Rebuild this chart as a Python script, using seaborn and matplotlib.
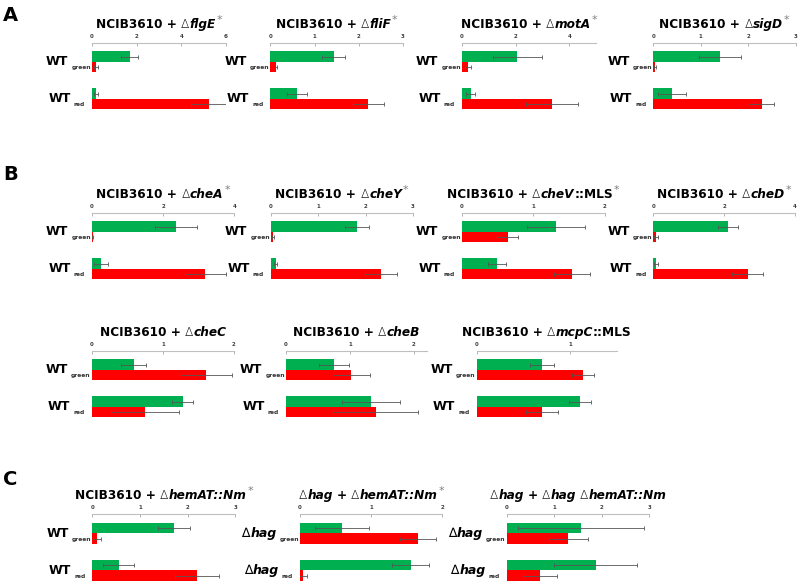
import numpy as np
import pandas as pd
import matplotlib
matplotlib.use("Agg")
import matplotlib.pyplot as plt
from matplotlib.transforms import IdentityTransform
import seaborn as sns

# ---- data ----
strains = ["green", "red"]          # WT_green / WT_red rows
channels = ["green", "red"]         # bar colour = fluorescence channel

panel_names = ["flgE", "fliF", "motA", "sigD",
               "cheA", "cheY", "cheV", "cheD",
               "cheC", "cheB", "mcpC",
               "hemAT", "hag_hemAT", "hag_hag_hemAT"]

green_mean = [[1.68, 0.17], [1.44, 0.60], [2.07, 0.32], [1.40, 0.39],
              [2.35, 0.25], [1.82, 0.10], [1.32, 0.49], [2.12, 0.07],
              [0.59, 1.28], [0.75, 1.33], [0.70, 1.11],
              [1.71, 0.55], [0.59, 1.56], [1.56, 1.87]]
green_err = [[0.38, 0.10], [0.26, 0.22], [0.93, 0.18], [0.44, 0.29],
             [0.59, 0.19], [0.26, 0.03], [0.41, 0.13], [0.28, 0.05],
             [0.18, 0.15], [0.24, 0.45], [0.13, 0.12],
             [0.33, 0.33], [0.38, 0.26], [1.32, 0.88]]
red_mean = [[0.17, 5.24], [0.13, 2.22], [0.22, 3.36], [0.03, 2.28],
            [0.02, 3.19], [0.05, 2.33], [0.64, 1.54], [0.08, 2.66],
            [1.61, 0.75], [1.02, 1.40], [1.14, 0.70],
            [0.10, 2.20], [1.66, 0.04], [1.30, 0.70]]
red_err = [[0.10, 0.82], [0.03, 0.35], [0.10, 0.98], [0.02, 0.26],
           [0.01, 0.57], [0.02, 0.34], [0.15, 0.25], [0.05, 0.45],
           [0.36, 0.48], [0.29, 0.66], [0.12, 0.17],
           [0.08, 0.46], [0.25, 0.06], [0.42, 0.35]]

x_max = [6, 3, 5, 3, 4, 3, 2, 4, 2, 2.2, 1.5, 3, 2, 3]
x_ticks = [[0, 2, 4, 6], [0, 1, 2, 3], [0, 2, 4], [0, 1, 2, 3],
           [0, 2, 4], [0, 1, 2, 3], [0, 1, 2], [0, 2, 4],
           [0, 1, 2], [0, 1, 2], [0, 1],
           [0, 1, 2, 3], [0, 1, 2], [0, 1, 2, 3]]

# title pieces: (text, style, gap before in px)
def ncib(gene, extra=None, star=True):
    p = [("NCIB3610 +", "b", 0), ("\u2206", "d", 4), (gene, "bi", 0.5)]
    if extra:
        p.append((extra, "b", 0))
    if star:
        p.append(("*", "s", 1))
    return p

titles = [ncib("flgE"), ncib("fliF"), ncib("motA"), ncib("sigD"),
          ncib("cheA"), ncib("cheY"), ncib("cheV", "::MLS"), ncib("cheD"),
          ncib("cheC", star=False), ncib("cheB", star=False),
          ncib("mcpC", "::MLS", star=False),
          ncib("hemAT::Nm"),
          [("\u2206", "d", 0), ("hag", "bi", 0.5), ("+", "b", 4), ("\u2206", "d", 4),
           ("hemAT::Nm", "bi", 0.5), ("*", "s", 1)],
          [("\u2206", "d", 0), ("hag", "bi", 0.5), ("+", "b", 4), ("\u2206", "d", 4),
           ("hag", "bi", 0.5), ("\u2206", "d", 4), ("hemAT::Nm", "bi", 0.5)]]
row_main = ["WT"] * 12 + ["hag", "hag"]

# ---- layout in pixels: left (x=0), right (x=xmax), top axis line ----
W, H = 800, 586
layout = [(92, 226, 42.7), (270.3, 403, 42.7), (462, 596, 42.7), (653.3, 795.7, 42.7),
          (92, 234.3, 212.7), (271, 413, 212.7), (462, 604.7, 212.7), (653.3, 795, 212.7),
          (91.7, 234, 350.7), (286, 426.7, 350.7), (476.7, 616.7, 350.7),
          (92.3, 235.3, 514), (300, 442.3, 514), (506.7, 649.3, 514)]
letters = [("A", 3, 21), ("B", 3, 180), ("C", 3, 485)]

bar_colors = {"green": "#00B050", "red": "#FF0000"}
PPU = 37.0
Y_TOP, Y_BOT = -0.52, 1.42

fig = plt.figure(figsize=(W / 100, H / 100), dpi=100)
renderer = fig.canvas.get_renderer()

styles = {
    "b": (dict(fontsize=8.7, fontweight="bold", color="black"), 0),
    "bi": (dict(fontsize=8.7, fontweight="bold", fontstyle="italic", color="black"), 0),
    "d": (dict(fontsize=8.7, fontweight="light", color="black"), 0),
    "s": (dict(fontsize=8, color="#808080"), 5),
    "L": (dict(fontsize=9, fontweight="bold", color="black"), 0),
    "Li": (dict(fontsize=9, fontweight="bold", fontstyle="italic", color="black"), 0),
    "Ld": (dict(fontsize=9, color="black"), 0),
    "sub": (dict(fontsize=4.3, fontweight="bold", color="#333333"), -4),
}


def rich(x, y, pieces, ha="left"):
    arts, sizes = [], []
    for text, st, gap in pieces:
        kw, rise = styles[st]
        t = fig.text(0, 0, text, transform=IdentityTransform(), va="baseline", **kw)
        arts.append((t, rise))
        sizes.append((gap, t.get_window_extent(renderer).width))
    total = sum(g + w for g, w in sizes)
    x0 = x - total / 2 if ha == "center" else (x - total if ha == "right" else x)
    for (t, rise), (g, w) in zip(arts, sizes):
        x0 += g
        t.set_position((x0, H - y + rise))
        x0 += w


for i in range(len(panel_names)):
    left, right, top = layout[i]
    bottom = top + (Y_BOT - Y_TOP) * PPU
    ax = fig.add_axes([left / W, 1 - bottom / H, (right - left) / W, (bottom - top) / H])
    ax.patch.set_alpha(0)

    df = pd.DataFrame({
        "strain": strains * 2,
        "channel": ["green"] * 2 + ["red"] * 2,
        "value": green_mean[i] + red_mean[i],
    })
    sns.barplot(data=df, x="value", y="strain", hue="channel", hue_order=channels,
                order=strains, palette=bar_colors, orient="h", width=0.57,
                saturation=1, errorbar=None, legend=False, linewidth=0, ax=ax)

    errs = {"green": green_err[i], "red": red_err[i]}
    for cont, ch in zip(ax.containers, channels):
        for bar, e in zip(cont, errs[ch]):
            yc = bar.get_y() + bar.get_height() / 2
            ax.errorbar(bar.get_width(), yc, xerr=e, fmt="none", ecolor="#555555",
                        elinewidth=0.6, capsize=1.2, capthick=0.6, zorder=5)

    ax.set_xlim(0, x_max[i])
    ax.set_ylim(Y_BOT, Y_TOP)
    ax.set_xticks(x_ticks[i])
    ax.set_xticklabels([str(t) for t in x_ticks[i]])
    ax.xaxis.tick_top()
    ax.tick_params(axis="x", direction="in", length=2, width=0.6, color="#a6a6a6",
                   labelsize=4, labelcolor="#404040", pad=3)
    for lab in ax.get_xticklabels():
        lab.set_fontweight("bold")
    ax.set_yticks([])
    ax.set_xlabel("")
    ax.set_ylabel("")
    for side in ["bottom", "left", "right"]:
        ax.spines[side].set_visible(False)
    ax.spines["top"].set_color("#bfbfbf")
    ax.spines["top"].set_linewidth(0.8)

    # title
    rich((left + right) / 2, top - 15, titles[i], ha="center")

    # row labels: main text + small subscript
    for r, sub in enumerate(strains):
        yc = top + (r - Y_TOP) * PPU
        pad = 1 if sub == "green" else 7
        if row_main[i] == "WT":
            pieces = [("WT", "L", 0), (sub, "sub", 3)]
        else:
            pieces = [("\u2206", "Ld", 0), ("hag", "Li", 0.5), (sub, "sub", 3)]
        rich(left - pad, yc + 3.5, pieces, ha="right")

for letter, lx, ly in letters:
    fig.text(lx, H - ly, letter, transform=IdentityTransform(), fontsize=14,
             fontweight="bold", va="baseline")

fig.savefig("out.png", dpi=100)
